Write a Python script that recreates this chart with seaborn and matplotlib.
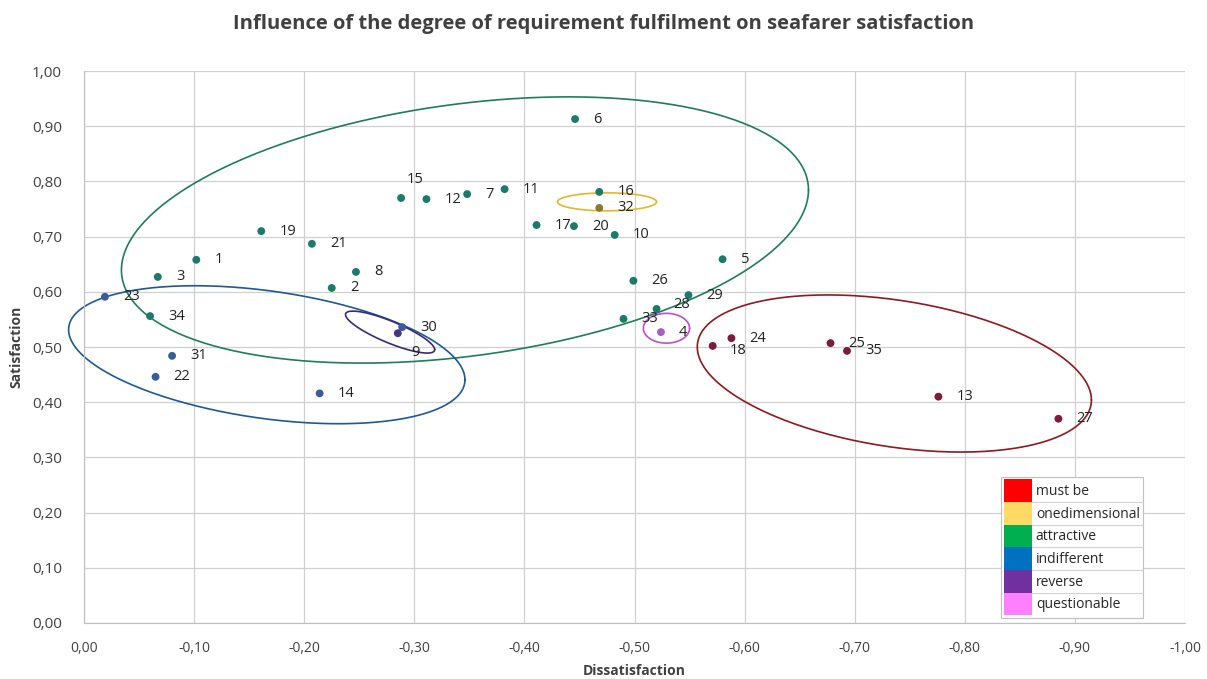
import numpy as np
import pandas as pd
import matplotlib
matplotlib.use('Agg')
import matplotlib.pyplot as plt
from matplotlib.patches import Patch
from matplotlib.ticker import FuncFormatter
import seaborn as sns

# requirement numbers and their (dissatisfaction, satisfaction) coefficients
req_id = [6, 15, 12, 7, 11, 16, 32, 17, 20, 10, 5, 26, 29, 28, 33, 4, 18, 24,
          30, 9, 19, 21, 1, 3, 8, 2, 23, 34, 31, 22, 14, 25, 35, 13, 27]
dissat = [-0.446, -0.288, -0.311, -0.348, -0.382, -0.468, -0.468, -0.411, -0.445,
          -0.482, -0.580, -0.499, -0.549, -0.520, -0.490, -0.524, -0.571, -0.588,
          -0.289, -0.285, -0.161, -0.207, -0.102, -0.067, -0.247, -0.225, -0.019,
          -0.060, -0.080, -0.065, -0.214, -0.678, -0.693, -0.776, -0.885]
sat = [0.913, 0.770, 0.768, 0.777, 0.786, 0.781, 0.752, 0.721, 0.719,
       0.703, 0.659, 0.620, 0.594, 0.569, 0.551, 0.527, 0.502, 0.516,
       0.536, 0.525, 0.710, 0.687, 0.658, 0.627, 0.636, 0.607, 0.591,
       0.556, 0.484, 0.446, 0.416, 0.507, 0.493, 0.410, 0.370]
category = ['attractive'] * 6 + ['onedimensional'] + ['attractive'] * 8 + \
           ['questionable', 'must be', 'must be', 'indifferent', 'reverse'] + \
           ['attractive'] * 6 + ['indifferent', 'attractive'] + \
           ['indifferent'] * 3 + ['must be'] * 4

legend_labels = ['must be', 'onedimensional', 'attractive', 'indifferent', 'reverse', 'questionable']

# ellipse per group: centre (x, y), first semi-diameter (dx, dy), second (dx, dy)
ell_centre = {'attractive': (-0.346, 0.712), 'indifferent': (-0.166, 0.486),
              'reverse': (-0.278, 0.527), 'onedimensional': (-0.475, 0.763),
              'questionable': (-0.529, 0.534), 'must be': (-0.736, 0.452)}
ell_u = {'attractive': (-0.312, 0.0725), 'indifferent': (-0.180, -0.0453),
         'reverse': (-0.0405, -0.0317), 'onedimensional': (-0.045, 0.0),
         'questionable': (-0.021, 0.0), 'must be': (-0.179, -0.048)}
ell_v = {'attractive': (0.0, -0.230), 'indifferent': (0.0, 0.1165),
         'reverse': (0.0, 0.021), 'onedimensional': (0.0, 0.0163),
         'questionable': (0.0, 0.027), 'must be': (0.0, 0.134)}

point_col = {'attractive': '#1b7a68', 'onedimensional': '#8c7a2e', 'indifferent': '#3b5c9c',
             'reverse': '#4a3488', 'questionable': '#a35ec9', 'must be': '#7c1c38'}
ell_col = {'attractive': '#1f7d5c', 'onedimensional': '#e3b72d', 'indifferent': '#1d5a94',
           'reverse': '#3b2a78', 'questionable': '#c04fc8', 'must be': '#8e1a1f'}
legend_col = ['#ff0000', '#ffd966', '#00b050', '#0070c0', '#7030a0', '#ff80ff']

df = pd.DataFrame({'id': req_id, 'dissat': dissat, 'sat': sat, 'cat': category})

sns.set_style('white')
plt.rcParams['font.family'] = ['Open Sans', 'DejaVu Sans']

fig = plt.figure(figsize=(12.07, 6.79), dpi=100)
ax = fig.add_axes([0.0696, 0.0825, 0.9122, 0.8129])

sns.scatterplot(data=df, x='dissat', y='sat', hue='cat', palette=point_col,
                s=32, edgecolor='none', legend=False, ax=ax, zorder=3)

# ellipses (the indifferent one sticks out past the y axis, like the original)
t = np.linspace(0, 2 * np.pi, 300)
for c in ell_centre:
    cx, cy = ell_centre[c]
    ux, uy = ell_u[c]
    vx, vy = ell_v[c]
    ax.plot(cx + ux * np.cos(t) + vx * np.sin(t), cy + uy * np.cos(t) + vy * np.sin(t),
            color=ell_col[c], lw=1.2, zorder=2, clip_on=False)

# labels next to points
special = {15: (4, 13), 9: (10, -14), 28: (12, 3), 18: (12, -3)}
for i, x, y in zip(req_id, dissat, sat):
    off = special.get(i, (13, 0))
    ax.annotate(str(i), (x, y), xytext=off, textcoords='offset points',
                ha='left', va='center', fontsize=10.5, color='#222222', zorder=4)

ax.set_xlim(0, -1)
ax.set_ylim(0, 1)
ax.set_xticks(np.round(np.arange(0, -1.01, -0.1), 2))
ax.set_yticks(np.round(np.arange(0, 1.01, 0.1), 2))
fmt = FuncFormatter(lambda v, p: ('%.2f' % abs(v) if abs(v) < 1e-9 else '%.2f' % v).replace('.', ','))
ax.xaxis.set_major_formatter(fmt)
ax.yaxis.set_major_formatter(fmt)
ax.grid(True, color='#d0d0d0', lw=0.9)
ax.set_axisbelow(True)
for s in ['top', 'right']:
    ax.spines[s].set_visible(False)
for s in ['left', 'bottom']:
    ax.spines[s].set_color('#bfbfbf')
ax.tick_params(axis='x', length=0, labelsize=10, colors='#404040', pad=13)
ax.tick_params(axis='y', length=0, labelsize=11, colors='#404040', pad=16)

ax.set_xlabel('Dissatisfaction', fontsize=10, fontweight='bold', color='#404040', labelpad=6)
ax.set_ylabel('Satisfaction', fontsize=10, fontweight='bold', color='#404040', labelpad=6)
fig.suptitle('Influence of the degree of requirement fulfilment on seafarer satisfaction',
             x=0.5, y=0.98, fontsize=14.5, fontweight='bold', color='#404040')

handles = [Patch(facecolor=c, edgecolor='none') for c in legend_col]
leg = ax.legend(handles, legend_labels, loc='lower right', bbox_to_anchor=(0.9615, 0.009),
                fontsize=10, handlelength=2.0, handleheight=2.13, handletextpad=0.3,
                labelspacing=0.0, borderpad=0.2, borderaxespad=0, fancybox=False,
                framealpha=1, edgecolor='#bfbfbf')
leg.get_frame().set_linewidth(0.8)

# thin separator lines between legend rows
fig.canvas.draw()
inv = fig.transFigure.inverted()
fb = leg.get_frame().get_window_extent()
for h in leg.legend_handles[:-1]:
    hb = h.get_window_extent()
    (x0, y0), (x1, _) = inv.transform([(hb.x1, hb.y0), (fb.x1, hb.y0)])
    fig.add_artist(plt.Line2D([x0, x1], [y0, y0], color='#d0d0d0', lw=0.8))

fig.savefig('out.png', dpi=100)
